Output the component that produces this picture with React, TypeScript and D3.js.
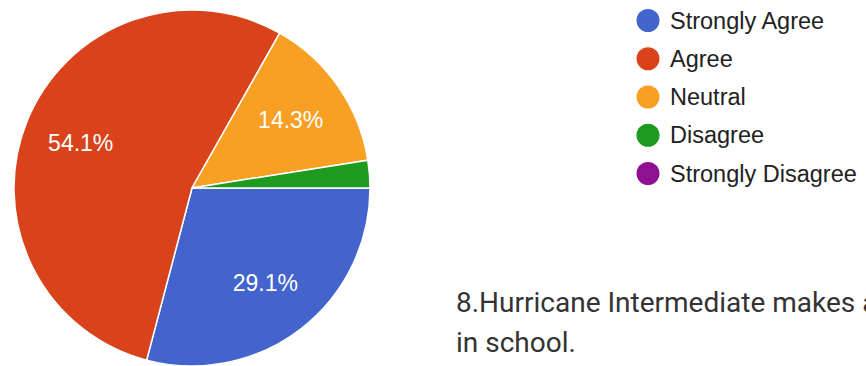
import React from "react";
import * as d3 from "d3";

const categories = ["Strongly Agree", "Agree", "Neutral", "Disagree", "Strongly Disagree"];
const values = [29.1, 54.1, 14.3, 2.5, 0];
const colors = ["#4264cc", "#d9431b", "#f7a024", "#1e9a1e", "#8e1192"];
const titleLines = ["8.Hurricane Intermediate makes a", "in school."];

const W = 866;
const H = 366;

export default function App() {
  const cx = 192;
  const cy = 188;
  const r = 178;
  const pie = d3
    .pie<number>()
    .sort(null)
    .startAngle(Math.PI / 2)
    .endAngle(Math.PI / 2 + 2 * Math.PI)(values);
  const arc = d3.arc<d3.PieArcDatum<number>>().innerRadius(0).outerRadius(r);
  const labelArc = d3.arc<d3.PieArcDatum<number>>().innerRadius(r * 0.675).outerRadius(r * 0.675);
  const total = d3.sum(values);

  const legendY = d3.scalePoint<string>().domain(categories).range([20.5, 173.5]);

  return (
    <svg
      width={W}
      height={H}
      style={{ position: "absolute", left: 0, top: 0, background: "#fff" }}
    >
      <g transform={`translate(${cx},${cy})`}>
        {pie.map((d, i) =>
          d.value > 0 ? (
            <path key={i} d={arc(d) || ""} fill={colors[i]} stroke="#fff" strokeWidth={1.5} />
          ) : null
        )}
        {pie.map((d, i) => {
          const pct = (d.value / total) * 100;
          if (pct < 5) return null;
          const [x, y] = labelArc.centroid(d);
          return (
            <text
              key={"l" + i}
              x={x}
              y={y}
              dy="0.35em"
              textAnchor="middle"
              fill="#fff"
              style={{ font: "23px 'Liberation Sans', Arial, sans-serif" }}
            >
              {d.value.toFixed(1) + "%"}
            </text>
          );
        })}
      </g>
      <g>
        {categories.map((c, i) => (
          <g key={c} transform={`translate(0,${legendY(c)})`}>
            <circle cx={648} cy={0} r={11.5} fill={colors[i]} />
            <text
              x={670}
              y={8}
              fill="#222"
              style={{ font: "23.5px 'Liberation Sans', Arial, sans-serif" }}
            >
              {c}
            </text>
          </g>
        ))}
      </g>
      <g>
        {titleLines.map((t, i) => (
          <text
            key={i}
            x={456}
            y={312 + i * 40}
            fill="#333"
            style={{ font: "28px Roboto, sans-serif" }}
          >
            {t}
          </text>
        ))}
      </g>
    </svg>
  );
}
